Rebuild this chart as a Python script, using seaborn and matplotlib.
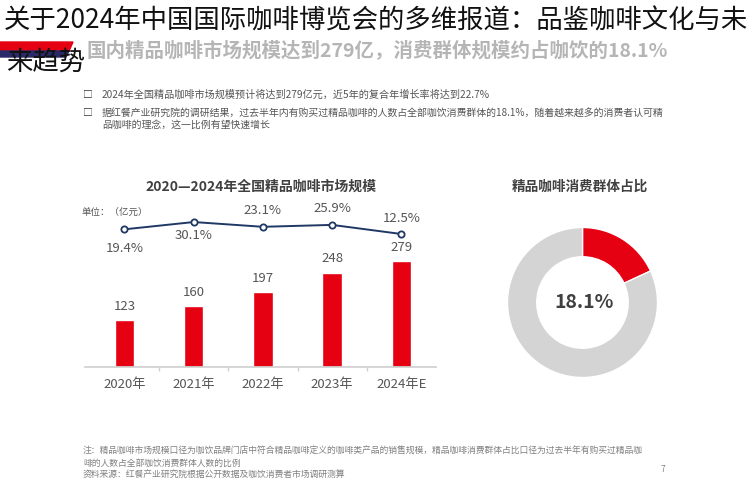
import matplotlib
matplotlib.use("Agg")
import matplotlib.pyplot as plt
import matplotlib.patches as mpatches
import seaborn as sns
import pandas as pd

# chart data
years = ["2020年", "2021年", "2022年", "2023年", "2024年E"]
market_size = [123, 160, 197, 248, 279]
growth_rate = [19.4, 30.1, 23.1, 25.9, 12.5]
consumer_share = 18.1

title_1 = "关于2024年中国国际咖啡博览会的多维报道：品鉴咖啡文化与未"
title_2 = "来趋势"
subtitle = "国内精品咖啡市场规模达到279亿，消费群体规模约占咖饮的18.1%"
bullet_1 = "2024年全国精品咖啡市场规模预计将达到279亿元，近5年的复合年增长率将达到22.7%"
bullet_2a = "据红餐产业研究院的调研结果，过去半年内有购买过精品咖啡的人数占全部咖饮消费群体的18.1%，随着越来越多的消费者认可精"
bullet_2b = "品咖啡的理念，这一比例有望快速增长"
bar_title = "2020—2024年全国精品咖啡市场规模"
pie_title = "精品咖啡消费群体占比"
unit_text = "单位：（亿元）"
notes = [
    "注：精品咖啡市场规模口径为咖饮品牌门店中符合精品咖啡定义的咖啡类产品的销售规模，精品咖啡消费群体占比口径为过去半年有购买过精品咖",
    "啡的人数占全部咖饮消费群体人数的比例",
    "资料来源：红餐产业研究院根据公开数据及咖饮消费者市场调研测算",
]

RED = "#e50012"
NAVY = "#1f3864"
GREY_TXT = "#555555"
W, H = 750, 500

sns.set_theme(style="white")
plt.rcParams["font.family"] = ["Noto Sans CJK SC", "DejaVu Sans"]

fig = plt.figure(figsize=(7.5, 5), dpi=100)
fig.patch.set_facecolor("white")


def px(x, y):
    return x / W, 1 - y / H


def ftext(x, y, s, **kw):
    kw.setdefault("va", "center")
    fig.text(*px(x, y), s, **kw)


# header stripe
red_poly = [px(0, 42), px(73, 42), px(69, 51), px(0, 51)]
navy_poly = [px(0, 51), px(69, 51), px(66, 57), px(0, 57)]
fig.patches.append(mpatches.Polygon(red_poly, closed=True, color=RED, transform=fig.transFigure, zorder=0))
fig.patches.append(mpatches.Polygon(navy_poly, closed=True, color="#2a2a6a", transform=fig.transFigure, zorder=0))

ftext(4, 21, title_1, fontsize=19, color="#111111", fontweight="light")
ftext(6, 62, title_2, fontsize=19, color="#111111", fontweight="light")
ftext(86, 50, subtitle, fontsize=14, color="#b5b5b5", fontweight="bold")

# bullets
for y in (95, 113):
    ftext(88, y, "□", fontsize=7, color="#333333", ha="center")
ftext(102, 95, bullet_1, fontsize=7.3, color=GREY_TXT)
ftext(102, 113, bullet_2a, fontsize=7.15, color=GREY_TXT)
ftext(102, 125, bullet_2b, fontsize=7.15, color=GREY_TXT)

# bar chart
ax = fig.add_axes([85 / W, (H - 367) / H, 351 / W, 114 / H])
df = pd.DataFrame({"year": years, "size": market_size})
sns.barplot(data=df, x="year", y="size", color=RED, width=0.28, ax=ax, saturation=1)
ax.set_ylim(0, 300)
ax.set_xlim(-0.57, 4.5)
for i, v in enumerate(market_size):
    ax.annotate(str(v), (i, v), xytext=(0, 10), textcoords="offset points",
                ha="center", va="center", fontsize=9.5, color=GREY_TXT)
ax.set_xlabel("")
ax.set_ylabel("")
ax.set_yticks([])
ax.tick_params(axis="x", length=0, pad=8, labelsize=9.5, labelcolor=GREY_TXT)
ax.set_xticks([0.5, 1.5, 2.5, 3.5], minor=True)
ax.tick_params(axis="x", which="minor", length=3, color="#d0d0d0", bottom=True)
for s in ("top", "left", "right"):
    ax.spines[s].set_visible(False)
ax.spines["bottom"].set_color("#d0d0d0")
ax.set_facecolor("none")

# growth line
ax2 = fig.add_axes([85 / W, (H - 250) / H, 351 / W, 50 / H])
sns.lineplot(x=years, y=growth_rate, ax=ax2, color=NAVY, linewidth=1.4,
             marker="o", markersize=4.5, markerfacecolor="white",
             markeredgecolor=NAVY, markeredgewidth=1.3, sort=False)
ax2.set_xlim(-0.57, 4.5)
ax2.set_ylim(-11.0, 62.5)
label_offsets = [-13.5, -9.5, 12, 12, 11.5]
for i, (v, off) in enumerate(zip(growth_rate, label_offsets)):
    ax2.annotate(f"{v}%", (i, v), xytext=(0, off), textcoords="offset points",
                 ha="center", va="center", fontsize=9.5, color=GREY_TXT)
ax2.axis("off")

ftext(261, 187, bar_title, fontsize=10, fontweight="bold", color="#404040", ha="center")
ftext(81, 212, unit_text, fontsize=6.8, color=GREY_TXT)

# donut
R = 75
ax3 = fig.add_axes([(582.5 - 80) / W, (H - 302.5 - 80) / H, 160 / W, 160 / H])
ax3.pie([consumer_share, 100 - consumer_share], colors=[RED, "#d4d4d4"],
        startangle=90, counterclock=False, radius=1,
        wedgeprops=dict(width=0.39, edgecolor="white", linewidth=1))
ax3.set_xlim(-80 / R, 80 / R)
ax3.set_ylim(-80 / R, 80 / R)
ax3.set_aspect("equal")
ax3.text(0.02, 0, f"{consumer_share}%", ha="center", va="center",
         fontsize=14, fontweight="bold", color="#404040")
ftext(580, 187, pie_title, fontsize=9.8, fontweight="bold", color="#404040", ha="center")

# notes
for y, s in zip((451, 463, 474), notes):
    ftext(83, y, s, fontsize=6.35, color="#808080")
ftext(663, 470, "7", fontsize=6, color="#808080", ha="center")

fig.savefig("out.png", dpi=100)
